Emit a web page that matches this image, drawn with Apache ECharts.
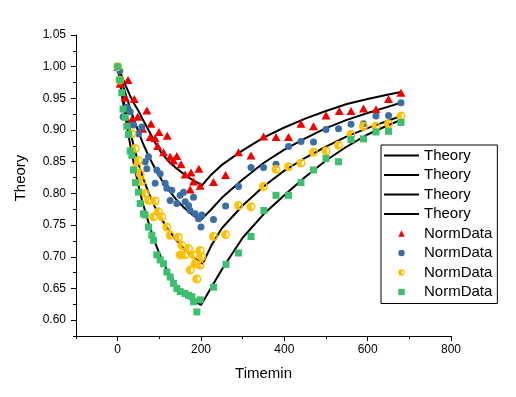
<!DOCTYPE html>
<html>
<head>
<meta charset="utf-8">
<script src="https://cdn.jsdelivr.net/npm/echarts@6/dist/echarts.min.js"></script>
<style>
  html, body { margin: 0; padding: 0; background: #fff; }
  #chart { width: 516px; height: 397px; }
</style>
</head>
<body>
<div id="chart"></div>
<script>
// theory curves [time, value]
const theoryRed = [[0,1.0],[10,0.985],[20,0.969],[30,0.954],[40,0.941],[50,0.930],[60,0.917],[75,0.899],[90,0.880],[105,0.864],[120,0.852],[140,0.840],[160,0.830],[180,0.821],[203,0.813],
  [225,0.830],[250,0.845],[300,0.868],[350,0.888],[400,0.904],[450,0.918],[500,0.930],[550,0.941],[600,0.949],[650,0.956],[680,0.960]];
const theoryBlue = [[0,1.0],[10,0.977],[20,0.955],[30,0.934],[40,0.915],[50,0.897],[60,0.880],[75,0.858],[90,0.839],[105,0.822],[120,0.807],[140,0.791],[160,0.777],[180,0.766],[198,0.757],
  [225,0.775],[250,0.793],[300,0.822],[350,0.848],[400,0.869],[450,0.887],[500,0.903],[550,0.916],[600,0.927],[650,0.937],[680,0.943]];
const theoryYellow = [[0,1.0],[10,0.962],[20,0.928],[30,0.898],[40,0.871],[50,0.847],[60,0.826],[75,0.800],[90,0.778],[105,0.760],[120,0.744],[140,0.727],[160,0.712],[180,0.700],[204,0.689],
  [225,0.718],[250,0.745],[300,0.781],[350,0.811],[400,0.836],[450,0.856],[500,0.874],[550,0.890],[600,0.903],[650,0.915],[680,0.922]];
const theoryGreen = [[0,1.0],[10,0.955],[20,0.915],[30,0.877],[40,0.843],[50,0.812],[60,0.785],[75,0.752],[90,0.722],[105,0.697],[120,0.677],[140,0.656],[160,0.641],[180,0.631],[200,0.624],
  [225,0.652],[250,0.680],[300,0.730],[350,0.767],[400,0.797],[450,0.826],[500,0.852],[550,0.874],[600,0.893],[650,0.908],[680,0.916]];

// measured data [time, value]
const normRed = [[0,1.0],[6,0.973],[18,0.951],[25,0.979],[34,0.917],[40,0.949],[48,0.921],[60,0.902],[70,0.931],[78,0.889],[80,0.910],[90,0.887],[96,0.875],[99,0.897],[110,0.865],[119,0.891],[126,0.858],[134,0.852],[142,0.859],[152,0.846],[162,0.830],[174,0.806],[176,0.833],[182,0.819],[195,0.839],[198,0.812],
  [230,0.818],[259,0.829],[290,0.865],[320,0.860],[350,0.890],[380,0.889],[410,0.889],[440,0.910],[470,0.906],[500,0.923],[532,0.930],[560,0.930],[590,0.934],[620,0.933],[650,0.949],[680,0.959]];
const normBlue = [[0,1.0],[5,0.993],[13,0.921],[22,0.936],[30,0.929],[38,0.908],[50,0.894],[58,0.905],[66,0.850],[70,0.839],[74,0.858],[90,0.816],[94,0.837],[102,0.831],[114,0.816],[118,0.808],[126,0.789],[130,0.805],[142,0.784],[150,0.797],[158,0.802],[162,0.787],[170,0.781],[174,0.773],[182,0.794],[186,0.768],[194,0.760],[200,0.747],[202,0.766],
  [230,0.759],[259,0.780],[290,0.811],[320,0.841],[350,0.841],[380,0.846],[410,0.874],[440,0.882],[470,0.881],[500,0.901],[530,0.902],[560,0.909],[590,0.910],[620,0.922],[650,0.923],[680,0.943]];
const normYellow = [[0,1.0],[5,0.979],[34,0.894],[42,0.871],[46,0.842],[50,0.852],[54,0.831],[58,0.819],[66,0.800],[74,0.789],[86,0.763],[90,0.788],[98,0.771],[106,0.763],[118,0.747],[126,0.734],[146,0.731],[150,0.703],[154,0.718],[162,0.703],[170,0.713],[174,0.679],[182,0.703],[186,0.689],[190,0.665],[198,0.710],[198,0.687],[202,0.700],
  [230,0.732],[259,0.735],[290,0.781],[320,0.779],[350,0.811],[380,0.838],[410,0.842],[440,0.848],[470,0.865],[500,0.867],[530,0.876],[560,0.893],[590,0.906],[620,0.906],[650,0.910],[680,0.922]];
const normGreen = [[0,1.0],[5,0.979],[10,0.959],[13,0.933],[18,0.920],[22,0.906],[26,0.893],[30,0.867],[34,0.860],[38,0.837],[43,0.817],[50,0.802],[54,0.784],[62,0.768],[66,0.766],[74,0.747],[82,0.734],[86,0.726],[94,0.703],[102,0.695],[110,0.689],[118,0.676],[126,0.668],[134,0.658],[142,0.650],[150,0.645],[162,0.642],[170,0.639],[178,0.637],[182,0.629],[190,0.613],[198,0.632],
  [230,0.652],[260,0.688],[290,0.706],[320,0.732],[351,0.773],[380,0.797],[410,0.797],[440,0.817],[470,0.837],[500,0.855],[530,0.850],[560,0.885],[590,0.886],[620,0.897],[650,0.898],[680,0.912]];

const xMajor = [0, 200, 400, 600, 800];
const xMinor = [-100, 100, 300, 500, 700];
const yMajor = [0.60, 0.65, 0.70, 0.75, 0.80, 0.85, 0.90, 0.95, 1.00, 1.05];
const yMinor = [0.575, 0.625, 0.675, 0.725, 0.775, 0.825, 0.875, 0.925, 0.975, 1.025];

const font = '"Liberation Sans", Arial, sans-serif';
// left half filled, right half hollow
const halfCircle = 'path://M0,-10A10,10,0,1,1,0,10A10,10,0,1,1,0,-10ZM1.5,-5.5L1.5,5.5A5.5,5.5,0,0,0,1.5,-5.5Z';

const chart = echarts.init(document.getElementById('chart'));

function theory(name, data) {
  return {
    name: name, type: 'line', data: data, symbol: 'none', silent: true,
    lineStyle: { color: '#000', width: 2 }, itemStyle: { color: '#000' }
  };
}
function norm(name, data, symbol, size, color) {
  return {
    name: name, type: 'line', data: data, symbol: symbol, symbolSize: size,
    showSymbol: true, silent: true,
    lineStyle: { width: 0 }, itemStyle: { color: color, borderWidth: 0 }
  };
}

chart.setOption({
  animation: false,
  grid: { left: 76, top: 35, right: 65, bottom: 61 },
  legend: {
    orient: 'vertical', left: 381, top: 145,
    padding: [3, 5, 4, 2], itemGap: 4.5, itemWidth: 35, itemHeight: 8,
    backgroundColor: '#fff', borderColor: '#000', borderWidth: 1,
    textStyle: { fontSize: 15, color: '#000', fontFamily: font },
    formatter: function (n) { return n.replace(/ \d$/, ''); },
    data: [
      { name: 'Theory 1', itemStyle: { opacity: 0 } },
      { name: 'Theory 2', itemStyle: { opacity: 0 } },
      { name: 'Theory 3', itemStyle: { opacity: 0 } },
      { name: 'Theory 4', itemStyle: { opacity: 0 } },
      'NormData 1', 'NormData 2', 'NormData 3', 'NormData 4'
    ]
  },
  xAxis: [{
    type: 'value', min: -100, max: 800, position: 'bottom',
    name: 'Timemin', nameLocation: 'middle', nameGap: 30,
    nameTextStyle: { fontSize: 15, color: '#000', fontFamily: font },
    axisLine: { onZero: false, lineStyle: { color: '#000', width: 1 } },
    axisTick: { length: 5, customValues: xMajor, lineStyle: { color: '#000' } },
    axisLabel: { customValues: xMajor, fontSize: 12, color: '#000', fontFamily: font, margin: 8 },
    splitLine: { show: false }
  }, {
    type: 'value', min: -100, max: 800, position: 'bottom',
    axisLine: { show: false, onZero: false },
    axisTick: { show: true, length: 3, customValues: xMinor, lineStyle: { color: '#000' } },
    axisLabel: { show: false }, splitLine: { show: false }
  }],
  yAxis: [{
    type: 'value', min: 0.575, max: 1.05, position: 'left',
    name: 'Theory', nameLocation: 'middle', nameGap: 48,
    nameTextStyle: { fontSize: 15, color: '#000', fontFamily: font, padding: [0, 0, 0, 15] },
    axisLine: { show: true, onZero: false, lineStyle: { color: '#000', width: 1 } },
    axisTick: { show: true, length: 5, customValues: yMajor, lineStyle: { color: '#000' } },
    axisLabel: { customValues: yMajor, fontSize: 12, color: '#000', fontFamily: font, margin: 10,
      formatter: function (v) { return v.toFixed(2); } },
    splitLine: { show: false }
  }, {
    type: 'value', min: 0.575, max: 1.05, position: 'left',
    axisLine: { show: false, onZero: false },
    axisTick: { show: true, length: 3, customValues: yMinor, lineStyle: { color: '#000' } },
    axisLabel: { show: false }, splitLine: { show: false }
  }],
  series: [
    theory('Theory 1', theoryRed),
    theory('Theory 2', theoryBlue),
    theory('Theory 3', theoryYellow),
    theory('Theory 4', theoryGreen),
    norm('NormData 1', normRed, 'triangle', [9, 8], '#f00000'),
    norm('NormData 2', normBlue, 'circle', 7, '#3a6ea5'),
    norm('NormData 3', normYellow, halfCircle, 9, '#ffc000'),
    norm('NormData 4', normGreen, 'rect', 7, '#3cbf6e')
  ]
});
</script>
</body>
</html>
